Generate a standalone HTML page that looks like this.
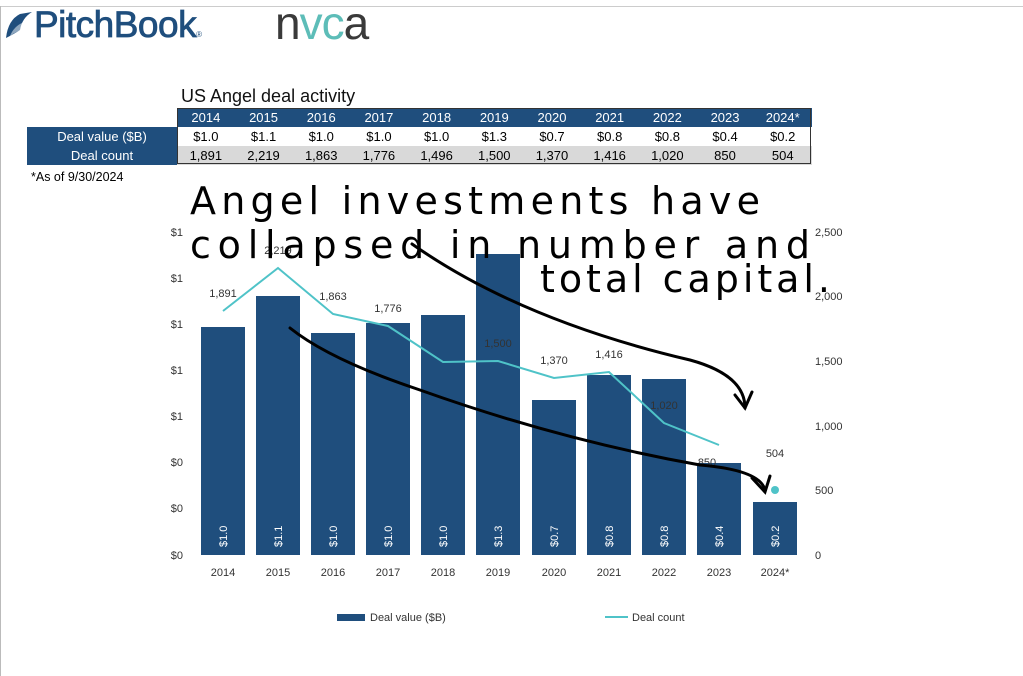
<!DOCTYPE html>
<html><head><style>
body{margin:0;width:1023px;height:676px;background:#fff;position:relative;overflow:hidden;font-family:"Liberation Sans",Arial,sans-serif}
.a{position:absolute}
table{border-collapse:collapse;position:absolute;left:27px;top:108px;font-size:13px}
td{height:19px;padding:0;text-align:center;width:57.7px}
</style></head><body>
<div class="a" style="left:0;top:6px;width:1023px;height:1px;background:#ccc"></div>
<div class="a" style="left:0;top:6px;width:1px;height:670px;background:#bbb"></div>
<svg class="a" style="left:2px;top:8px" width="32" height="34"><path d="M4 30 Q6 12 18 6 L30 4 Q20 10 18 22 Q12 26 4 30Z" fill="#1f4e7d"/><path d="M8 28 Q12 18 22 14 L26 20 Q16 22 8 28Z" fill="#fff" opacity=".5"/></svg>
<div class="a" style="left:34px;top:4px;font-size:37px;color:#1f4e7d;letter-spacing:-0.5px;-webkit-text-stroke:0.8px #1f4e7d">PitchBook<span style="font-size:8px;-webkit-text-stroke:0">®</span></div>
<div class="a" style="left:275px;top:-4px;font-size:46px;color:#3a3a3a;letter-spacing:-1px">n<span style="color:#5dbdb8">vc</span>a</div>
<div class="a" style="left:181px;top:86px;font-size:18px;color:#111">US Angel deal activity</div>
<table>
<tr style="color:#fff"><td style="width:150px;background:#fff"></td>
<td style="background:#1f4e7d">2014</td><td style="background:#1f4e7d">2015</td><td style="background:#1f4e7d">2016</td><td style="background:#1f4e7d">2017</td><td style="background:#1f4e7d">2018</td><td style="background:#1f4e7d">2019</td><td style="background:#1f4e7d">2020</td><td style="background:#1f4e7d">2021</td><td style="background:#1f4e7d">2022</td><td style="background:#1f4e7d">2023</td><td style="background:#1f4e7d">2024*</td></tr>
<tr><td style="background:#1f4e7d;color:#fff">Deal value ($B)</td><td>$1.0</td><td>$1.1</td><td>$1.0</td><td>$1.0</td><td>$1.0</td><td>$1.3</td><td>$0.7</td><td>$0.8</td><td>$0.8</td><td>$0.4</td><td>$0.2</td></tr>
<tr style="background:#d9d9d9"><td style="background:#1f4e7d;color:#fff">Deal count</td><td>1,891</td><td>2,219</td><td>1,863</td><td>1,776</td><td>1,496</td><td>1,500</td><td>1,370</td><td>1,416</td><td>1,020</td><td>850</td><td>504</td></tr>
</table>
<div class="a" style="left:177px;top:108px;width:634px;height:56px;border:1px solid #333;box-sizing:border-box"></div>
<div class="a" style="left:31px;top:170px;font-size:12.5px">*As of 9/30/2024</div>
<svg class="a" style="left:0;top:0" width="1023" height="676" font-family="Liberation Sans,Arial,sans-serif" font-size="11">
<g fill="#333" text-anchor="end">
<text x="183" y="236">$1</text><text x="183" y="282">$1</text><text x="183" y="328">$1</text><text x="183" y="374">$1</text><text x="183" y="420">$1</text><text x="183" y="466">$0</text><text x="183" y="512">$0</text><text x="183" y="559">$0</text>
</g>
<g fill="#333"><text x="815" y="236">2,500</text><text x="815" y="300">2,000</text><text x="815" y="365">1,500</text><text x="815" y="430">1,000</text><text x="815" y="494">500</text><text x="815" y="559">0</text></g>
<g fill="#1f4e7d">
<rect x="201" y="327" width="44" height="228"/><rect x="256" y="296" width="44" height="259"/><rect x="311" y="333" width="44" height="222"/><rect x="366" y="323" width="44" height="232"/><rect x="421" y="315" width="44" height="240"/><rect x="476" y="254" width="44" height="301"/><rect x="532" y="400" width="44" height="155"/><rect x="587" y="375" width="44" height="180"/><rect x="642" y="379" width="44" height="176"/><rect x="697" y="463" width="44" height="92"/><rect x="753" y="502" width="44" height="53"/>
</g>
<g fill="#fff" font-size="11">
<text transform="translate(227,547) rotate(-90)">$1.0</text><text transform="translate(282,547) rotate(-90)">$1.1</text><text transform="translate(337,547) rotate(-90)">$1.0</text><text transform="translate(392,547) rotate(-90)">$1.0</text><text transform="translate(447,547) rotate(-90)">$1.0</text><text transform="translate(502,547) rotate(-90)">$1.3</text><text transform="translate(558,547) rotate(-90)">$0.7</text><text transform="translate(613,547) rotate(-90)">$0.8</text><text transform="translate(668,547) rotate(-90)">$0.8</text><text transform="translate(723,547) rotate(-90)">$0.4</text><text transform="translate(779,547) rotate(-90)">$0.2</text>
</g>
<polyline points="223,311 278,268 333,314 388,326 443,362 498,361 554,378 609,372 664,423 719,445" fill="none" stroke="#4fc3c8" stroke-width="2"/>
<circle cx="775" cy="490" r="4" fill="#4fc3c8"/>
<g fill="#333" text-anchor="middle">
<text x="223" y="297">1,891</text><text x="278" y="254">2,219</text><text x="333" y="300">1,863</text><text x="388" y="312">1,776</text><text x="498" y="347">1,500</text><text x="554" y="364">1,370</text><text x="609" y="358">1,416</text><text x="664" y="409">1,020</text><text x="707" y="466">850</text><text x="775" y="457">504</text>
</g>
<g fill="#333" text-anchor="middle">
<text x="223" y="576">2014</text><text x="278" y="576">2015</text><text x="333" y="576">2016</text><text x="388" y="576">2017</text><text x="443" y="576">2018</text><text x="498" y="576">2019</text><text x="554" y="576">2020</text><text x="609" y="576">2021</text><text x="664" y="576">2022</text><text x="719" y="576">2023</text><text x="775" y="576">2024*</text>
</g>
<rect x="337" y="614" width="28" height="7" fill="#1f4e7d"/><text x="370" y="621" fill="#333">Deal value ($B)</text>
<line x1="605" y1="617" x2="628" y2="617" stroke="#4fc3c8" stroke-width="2"/><text x="632" y="621" fill="#333">Deal count</text>
<g fill="none" stroke="#000" stroke-width="3" stroke-linecap="round">
<path d="M412 244 Q520 320 690 360 Q745 375 745 408"/><path d="M735 395 L745 408 L752 392"/>
<path d="M290 328 Q330 360 420 390 Q560 440 700 465 Q760 470 765 490"/><path d="M752 478 L765 492 L770 476"/>
</g>
<g font-family="DejaVu Sans,sans-serif" fill="#000" font-size="38">
<text x="190" y="214" textLength="570">Angel investments have</text>
<text x="190" y="258" textLength="620">collapsed in number and</text>
<text x="540" y="292" textLength="290">total capital.</text>
</g>
</svg>
</body></html>
